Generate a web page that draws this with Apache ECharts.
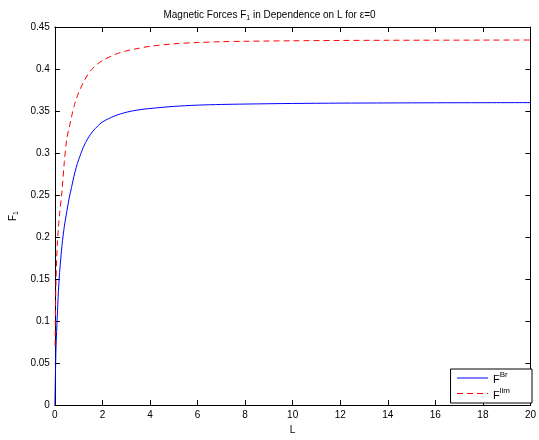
<!DOCTYPE html>
<html><head><meta charset="utf-8">
<script src="https://cdn.jsdelivr.net/npm/echarts@6/dist/echarts.min.js"></script>
<style>html,body{margin:0;padding:0;background:#fff}#c{width:539px;height:440px}</style>
</head><body><div id="c"></div>
<script>
var L_br = [0, 0.02, 0.05, 0.1, 0.15, 0.2, 0.3, 0.4, 0.5, 0.6, 0.7, 0.8, 0.9, 1.0, 1.2, 1.4, 1.6, 1.8, 2.0, 2.5, 3, 3.5, 4, 5, 6, 7, 8, 10, 12, 14, 16, 18, 20];
var F_br = [0, 0.03, 0.07, 0.105, 0.135, 0.158, 0.19, 0.213, 0.23, 0.246, 0.259, 0.272, 0.283, 0.292, 0.307, 0.318, 0.326, 0.332, 0.337, 0.344, 0.3485, 0.3513, 0.353, 0.3555, 0.357, 0.3578, 0.3583, 0.359, 0.3594, 0.3596, 0.3598, 0.3599, 0.36];
var L_lim = [0.01, 0.02, 0.05, 0.1, 0.15, 0.2, 0.3, 0.4, 0.5, 0.6, 0.7, 0.8, 0.9, 1.0, 1.2, 1.4, 1.6, 1.8, 2.0, 2.5, 3, 3.5, 4, 5, 6, 7, 8, 10, 12, 14, 16, 18, 20];
var F_lim = [0.07, 0.1, 0.15, 0.19, 0.212, 0.228, 0.255, 0.29, 0.317, 0.33, 0.343, 0.355, 0.364, 0.372, 0.384, 0.394, 0.401, 0.406, 0.41, 0.417, 0.4215, 0.4245, 0.427, 0.43, 0.4315, 0.4325, 0.433, 0.4336, 0.434, 0.4342, 0.4343, 0.4344, 0.4345];
var xTicks = [0, 2, 4, 6, 8, 10, 12, 14, 16, 18, 20];
var yTicks = [0, 0.05, 0.1, 0.15, 0.2, 0.25, 0.3, 0.35, 0.4, 0.45];

function zip(a, b) { return a.map(function (v, i) { return [v, b[i]]; }); }
var FONT = 'Liberation Sans';
var chart = echarts.init(document.getElementById('c'), null, {renderer: 'canvas'});
function axisCommon() {
  return {
    axisLine: {show: true, onZero: false, lineStyle: {color: '#000', width: 1}},
    axisTick: {show: true, inside: true, length: 5, lineStyle: {color: '#000'}},
    splitLine: {show: false}
  };
}
chart.setOption({
  animation: false,
  title: {
    text: '{t|Magnetic Forces F}{s|1}{t| in Dependence on L for ε=0}',
    left: 'center', top: 4,
    textStyle: {fontWeight: 'normal', rich: {
      t: {fontFamily: FONT, fontSize: 10, color: '#000', fontWeight: 'normal'},
      s: {fontFamily: FONT, fontSize: 7, color: '#000', fontWeight: 'normal', padding: [6, 0, 0, 0]}
    }}
  },
  grid: {left: 52, top: 27, right: 3, bottom: 31, containLabel: false},
  xAxis: [
    Object.assign({type: 'value', min: 0, max: 20, interval: 2, position: 'bottom',
      name: 'L', nameLocation: 'middle', nameGap: 19,
      nameTextStyle: {fontFamily: FONT, fontSize: 10, color: '#000'},
      axisLabel: {fontFamily: FONT, fontSize: 10, color: '#000', margin: 5}}, axisCommon()),
    Object.assign({type: 'value', min: 0, max: 20, interval: 2, position: 'top',
      axisLabel: {show: false}}, axisCommon())
  ],
  yAxis: [
    Object.assign({type: 'value', min: 0, max: 0.45, interval: 0.05, position: 'left',
      name: '{t|F}{s|1}', nameLocation: 'middle', nameGap: 34, nameRotate: 90,
      nameTextStyle: {rich: {
        t: {fontFamily: FONT, fontSize: 10, color: '#000'},
        s: {fontFamily: FONT, fontSize: 7, color: '#000', padding: [6, 0, 0, 0]}
      }},
      axisLabel: {fontFamily: FONT, fontSize: 10, color: '#000', margin: 5,
        formatter: function (v) { return String(Math.round(v * 100) / 100); }}}, axisCommon()),
    Object.assign({type: 'value', min: 0, max: 0.45, interval: 0.05, position: 'right',
      axisLabel: {show: false}}, axisCommon())
  ],
  legend: {
    right: 7, bottom: 37, orient: 'vertical',
    backgroundColor: '#fff', borderColor: '#000', borderWidth: 1, borderRadius: 0,
    padding: [2, 22, 2, 6], itemGap: 1, itemWidth: 31, itemHeight: 12,
    itemStyle: {opacity: 0},
    lineStyle: {width: 1},
    data: [{name: 'Br'}, {name: 'lim'}],
    formatter: function (n) { return '{t|F}{s|' + n + '}'; },
    textStyle: {rich: {
      t: {fontFamily: FONT, fontSize: 11, color: '#000', padding: [4, 0, 0, 0]},
      s: {fontFamily: FONT, fontSize: 8, color: '#000', padding: [0, 0, 6, 0]}
    }}
  },
  series: [
    {name: 'Br', type: 'line', data: zip(L_br, F_br), showSymbol: false, symbol: 'none', smooth: 0.3,
      lineStyle: {color: '#0000ff', width: 1}, itemStyle: {color: '#0000ff'}},
    {name: 'lim', type: 'line', data: zip(L_lim, F_lim), showSymbol: false, symbol: 'none', smooth: 0.3,
      lineStyle: {color: '#ff0000', width: 1, type: [6, 4]}, itemStyle: {color: '#ff0000'}}
  ]
});
</script></body></html>
